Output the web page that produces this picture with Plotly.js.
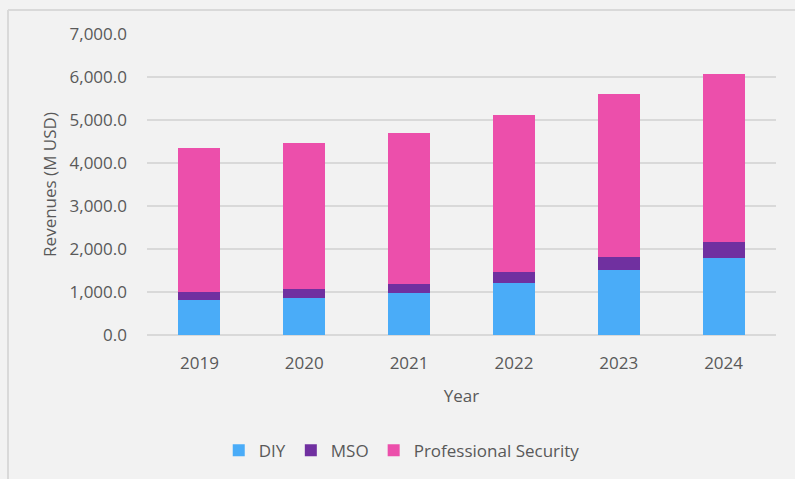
<!DOCTYPE html>
<html>
<head>
<meta charset="utf-8">
<script src="https://cdn.plot.ly/plotly-3.0.1.min.js"></script>
<style>
html,body{margin:0;padding:0;background:#f2f2f2;}
#chart{width:795px;height:479px;}
</style>
</head>
<body>
<div id="chart"></div>
<script>
const years = ['2019', '2020', '2021', '2022', '2023', '2024'];
const diy = [818, 865, 966, 1213, 1506, 1800];
const mso = [172, 201, 216, 263, 317, 363];
const professional = [3368, 3391, 3515, 3639, 3779, 3910];
const seriesNames = ['DIY', 'MSO', 'Professional Security'];
const seriesColors = ['#4aacf8', '#7030a0', '#ec4fab'];

const FONT = 'Open Sans, Lato, sans-serif';
const TXT = '#595959';
const values = [diy, mso, professional];

const traces = values.map((v, i) => ({
  type: 'bar',
  x: years,
  y: v,
  name: seriesNames[i],
  marker: {color: seriesColors[i], line: {width: 0}},
  width: 0.4,
  hoverinfo: 'none'
}));

const layout = {
  width: 795, height: 479,
  barmode: 'stack',
  paper_bgcolor: '#f2f2f2',
  plot_bgcolor: '#f2f2f2',
  margin: {l: 147, r: 19, t: 34, b: 143},
  font: {family: FONT, size: 17, color: TXT},
  xaxis: {
    title: {text: 'Year', font: {family: FONT, size: 17, color: TXT}, standoff: 17},
    tickfont: {family: FONT, size: 17, color: TXT},
    showgrid: false, zeroline: false, showline: false, ticks: '',
    ticklabelstandoff: 16,
    automargin: true, fixedrange: true
  },
  yaxis: {
    title: {text: 'Revenues (M USD)', font: {family: FONT, size: 17, color: TXT}, standoff: 8},
    tickfont: {family: FONT, size: 17, color: TXT},
    range: [0, 7000], dtick: 1000, tickformat: ',.1f',
    showgrid: true, gridcolor: '#d9d9d9', gridwidth: 2,
    zeroline: true, zerolinecolor: '#d9d9d9', zerolinewidth: 2,
    showline: false, ticks: '',
    ticklabelstandoff: 19,
    automargin: true, fixedrange: true
  },
  legend: {
    orientation: 'h', x: 0.405, xanchor: 'center', y: -0.38, yanchor: 'middle',
    font: {family: FONT, size: 17, color: TXT},
    bgcolor: 'rgba(0,0,0,0)', itemclick: false, itemdoubleclick: false,
    traceorder: 'normal'
  },
  shapes: [
    {type: 'line', xref: 'paper', yref: 'paper', x0: -0.221, x1: 1.05, y0: 1.0795, y1: 1.0795,
     line: {color: '#d9d9d9', width: 2}, layer: 'below'},
    {type: 'line', xref: 'paper', yref: 'paper', x0: -0.221, x1: -0.221, y0: 1.0795, y1: -0.5,
     line: {color: '#d9d9d9', width: 2}, layer: 'below'}
  ],
  showlegend: true
};

Plotly.newPlot('chart', traces, layout, {displayModeBar: false, staticPlot: true});
</script>
</body>
</html>
